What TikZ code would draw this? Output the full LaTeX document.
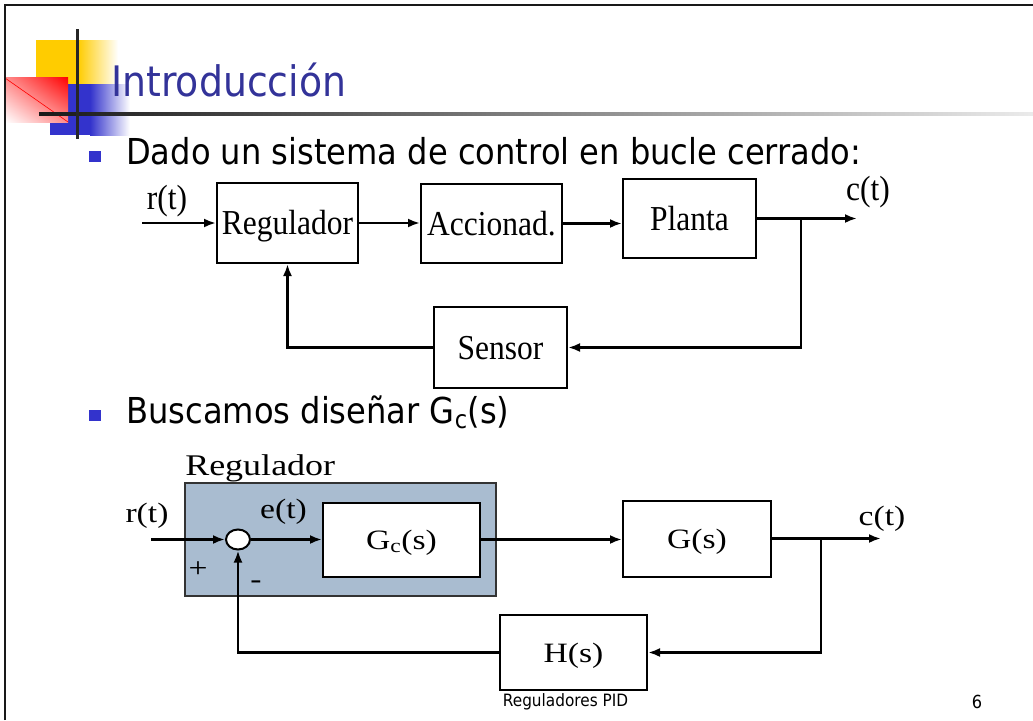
\documentclass[tikz,border=0pt]{standalone}
\usepackage{fontspec}
\setmainfont{Liberation Serif}
\newfontfamily\slidefont[FakeStretch=0.9]{DejaVu Sans}
\newfontfamily\blockfont[FakeStretch=0.9]{Liberation Serif}
\newfontfamily\wideblockfont[FakeStretch=1.2]{Liberation Serif}
\usepackage{tikz}
\usetikzlibrary{positioning,arrows.meta,shapes.geometric,shadings}
\definecolor{titleblue}{RGB}{51,51,153}
\definecolor{bulletblue}{RGB}{51,51,204}
\definecolor{padyellow}{RGB}{255,204,0}
\definecolor{regfill}{RGB}{169,188,208}

\begin{document}
\begin{tikzpicture}[
x=1pt, y=-1pt,
block/.style={
    draw,
    line width=2pt,
    inner sep=0pt,
    text height=23.5pt,
    text depth=0pt,
    font=\blockfont\fontsize{35}{38}\selectfont
},
wblock/.style={
    block,
    fill=white,
    text height=19pt,
    font=\wideblockfont\fontsize{28}{32}\selectfont
},
plain/.style={
    inner sep=0pt,
    font=\blockfont\fontsize{35}{38}\selectfont
},
wplain/.style={
    inner sep=0pt,
    font=\wideblockfont\fontsize{28}{32}\selectfont
},
regblk/.style={
    draw=black!80,
    fill=regfill,
    line width=2.2pt,
    inner sep=0pt
},
sum/.style={
    draw,
    ellipse,
    fill=white,
    line width=2pt,
    minimum width=24pt,
    minimum height=20pt,
    inner sep=0pt
},
slide/.style={
    inner sep=0pt,
    anchor=base west,
    font=\slidefont\fontsize{35.7}{40}\selectfont
},
bullet/.style={
    fill=bulletblue,
    minimum width=12pt,
    minimum height=11pt,
    inner sep=0pt
},
>={Latex[length=12pt,width=9pt]},
line width=2.5pt
]
\useasboundingbox (0,0) rectangle (1033,720);

% title decoration
\fill[padyellow] (36,40) rectangle (78,84);
\shade[left color=padyellow, right color=white] (78,40) rectangle (118,84);
\fill[bulletblue] (50,84) rectangle (90,135);
\shade[left color=bulletblue, right color=white] (90,84) rectangle (130,135);
\shade[upper left=red!45, upper right=red, lower left=white, lower right=red!45] (5,77) rectangle (68,122);
\draw[red, line width=0.6pt] (5,78) -- (68,122);
\shade[left color=black!90, middle color=black!45, right color=black!8] (39,112.5) rectangle (1033,115.5);
\draw[black!85, line width=3pt] (77,29) -- (77,139);
\draw[black!90, line width=2.5pt] (5,720) -- (5,5) -- (1033,5);

\node[anchor=base west, inner sep=0pt, text=titleblue, font=\slidefont\fontsize{42}{48}\selectfont] (title) at (110,96) {Introducción};
\node[bullet] (b1) at (94.5,156.5) {};
\node[slide] (line1) at (125,164) {Dado un sistema de control en bucle cerrado:};
\node[bullet] (b2) at (94.5,415.5) {};
\node[slide] (line2) at (125,423) {Buscamos diseñar G\textsubscript{c}(s)};

% closed loop
\node[block, minimum width=141pt, minimum height=80pt] (reg) at (287.5,223) {Regulador};
\node[block, minimum width=141pt, minimum height=79pt] (acc) at (491.5,223.5) {Accionad.};
\node[block, minimum width=133pt, minimum height=79pt] (planta) at (689.5,218.5) {Planta};
\node[block, minimum width=133pt, minimum height=81pt] (sensor) at (500.5,347.5) {Sensor};
\node[plain, anchor=base] (rt1) at (167,209) {r(t)};
\node[plain, anchor=base] (ct1) at (868,200) {c(t)};
\coordinate (in1) at (142,223);
\coordinate (out1) at (857,218.5);
\coordinate (br1) at (801,218.5);

\draw[->] (in1) -- (reg.west);
\foreach \a/\b in {reg/acc,acc/planta}
\draw[->] (\a.east) -- (\a.east -| \b.west);
\draw[->] (planta.east) -- (out1);
\draw[->] (br1) |- (sensor.east);
\draw[->] (sensor.west) -| (reg.south);

% with G_c(s)
\node[regblk, minimum width=311pt, minimum height=113pt] (regbox) at (340.5,539.5) {};
\node[wplain, anchor=base west, font=\wideblockfont\fontsize{30}{34}\selectfont] (reglbl) at (184,475) {Regulador};
\node[wblock, minimum width=157pt, minimum height=74pt] (gc) at (401.5,539.5) {G\textsubscript{c}(s)};
\node[wblock, minimum width=148pt, minimum height=76pt] (g) at (697,538.5) {G(s)};
\node[wblock, minimum width=147pt, minimum height=75pt] (h) at (573.5,652.5) {H(s)};
\node[sum] (sum) at (238,539.5) {};
\node[wplain, anchor=base] (rt2) at (147,522) {r(t)};
\node[wplain, anchor=base] (et) at (283.5,518) {e(t)};
\node[wplain, anchor=base] (ct2) at (882,525) {c(t)};
\node[wplain] (plus) at (198,570) {+};
\node[wplain] (minus) at (256,585) {-};
\coordinate (in2) at (151,539.5);
\coordinate (out2) at (881,538.5);
\coordinate (br2) at (821,538.5);

\draw[->] (in2) -- (sum.west);
\draw[->] (sum.east) -- (sum.east -| gc.west);
\draw[->] (gc.east) -- (gc.east -| g.west);
\draw[->] (g.east) -- (out2);
\draw[->] (br2) |- (h.east);
\draw[->] (h.west) -| (sum.south);

\node[inner sep=0pt, font=\slidefont\fontsize{17}{20}\selectfont] (foot) at (565.5,702) {Reguladores PID};
\node[inner sep=0pt, font=\slidefont\fontsize{18}{20}\selectfont] (pnum) at (977,702) {6};
\end{tikzpicture}
\end{document}
